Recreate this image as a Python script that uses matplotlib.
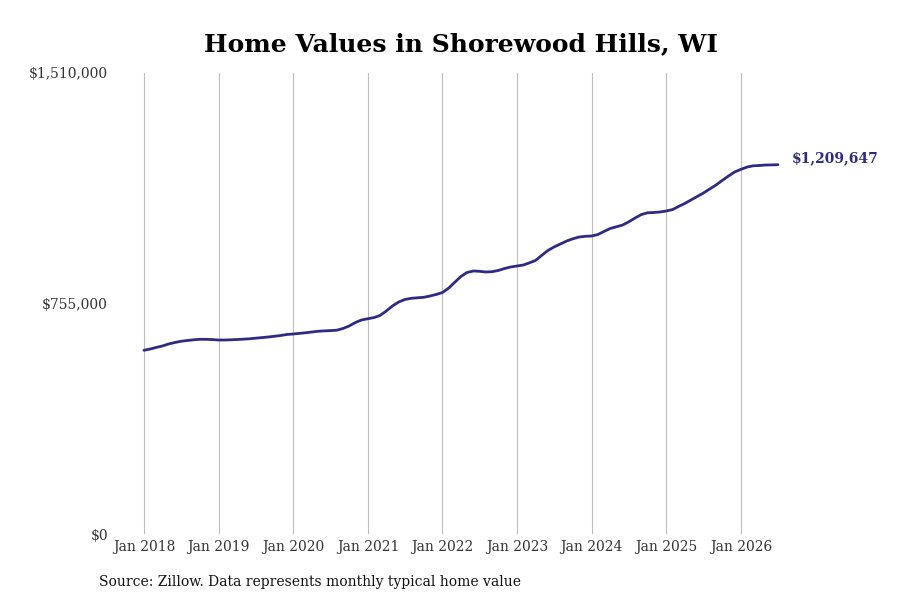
import matplotlib
matplotlib.use("Agg")
import matplotlib.pyplot as plt
import matplotlib.dates as mdates
import pandas as pd
import numpy as np

title = "Home Values in Shorewood Hills, WI"
source = "Source: Zillow. Data represents monthly typical home value"
start_month = "2018-01-01"
values_k = [
    601.7, 606.0, 610.9, 615.8, 622.3, 627.3, 631.2, 633.8, 636.1, 637.7, 637.7, 636.8,
    635.4, 635.4, 636.1, 637.1, 638.1, 639.4, 641.3, 643.3, 645.3, 647.6, 650.2, 653.5,
    655.1, 657.1, 659.0, 661.7, 663.9, 665.3, 666.2, 667.5, 673.1, 681.3, 692.8, 701.0,
    705.2, 709.1, 715.7, 730.4, 746.8, 759.9, 768.1, 772.0, 773.7, 775.3, 779.6, 784.5,
    791.0, 805.8, 823.8, 843.4, 856.5, 861.5, 860.5, 858.2, 859.2, 863.1, 869.6, 874.6,
    877.8, 881.1, 887.7, 895.8, 912.2, 928.6, 940.1, 949.9, 959.7, 966.9, 972.8, 975.1,
    976.1, 981.0, 990.8, 1000.7, 1006.2, 1012.1, 1022.6, 1035.1, 1046.5, 1052.1, 1053.1, 1054.7,
    1058.0, 1062.9, 1072.7, 1082.6, 1094.0, 1105.5, 1116.9, 1130.0, 1143.2, 1157.9, 1172.6, 1185.7,
    1194.6, 1202.1, 1206.0, 1207.0, 1208.6, 1209.0, 1209.647,
]
y_ticks = [0, 755000, 1510000]
y_tick_labels = ["$0", "$755,000", "$1,510,000"]
x_tick_years = list(range(2018, 2027))
end_label = "$1,209,647"

line_color = "#2e2a86"

dates = pd.date_range(start_month, periods=len(values_k), freq="MS")
values = np.array(values_k) * 1000

fig = plt.figure(figsize=(9, 6), dpi=100)
ax = fig.add_axes([126 / 900, 66 / 600, (792 - 126) / 900, 461 / 600])

ax.plot(dates, values, color=line_color, lw=2.0, solid_capstyle="round", zorder=3)

ax.set_ylim(0, 1510000)
x0 = pd.Timestamp("2018-01-01")
ax.set_xlim(mdates.date2num(x0) - 2.89 * 30.44, mdates.date2num(x0) + 104.2 * 30.44)

ax.set_yticks(y_ticks)
ax.set_yticklabels(y_tick_labels)
xt = [pd.Timestamp(f"{y}-01-01") for y in x_tick_years]
ax.set_xticks(xt)
ax.set_xticklabels([f"Jan {y}" for y in x_tick_years])

for s in ax.spines.values():
    s.set_visible(False)
ax.grid(axis="x", color="#bdbdbd", lw=0.8)
ax.grid(axis="y", visible=False)
ax.tick_params(axis="both", length=0, labelsize=10, labelcolor="#333333")
ax.tick_params(axis="y", pad=13)
ax.tick_params(axis="x", pad=4)
for lbl in ax.get_xticklabels() + ax.get_yticklabels():
    lbl.set_family("DejaVu Serif")

ax.annotate(end_label, xy=(dates[-1], values[-1]), xytext=(10, 5),
            textcoords="offset points", color=line_color, fontsize=10,
            fontweight="bold", family="DejaVu Serif", va="center", ha="left",
            annotation_clip=False)

fig.text(461 / 900, 1 - 44 / 600, title, ha="center", va="center",
         fontsize=18, fontweight="bold", family="DejaVu Serif")
fig.text(99 / 900, 1 - 582 / 600, source, ha="left", va="center",
         fontsize=10, family="DejaVu Serif", color="#111111")

fig.savefig("out.png", dpi=100, facecolor="white")
